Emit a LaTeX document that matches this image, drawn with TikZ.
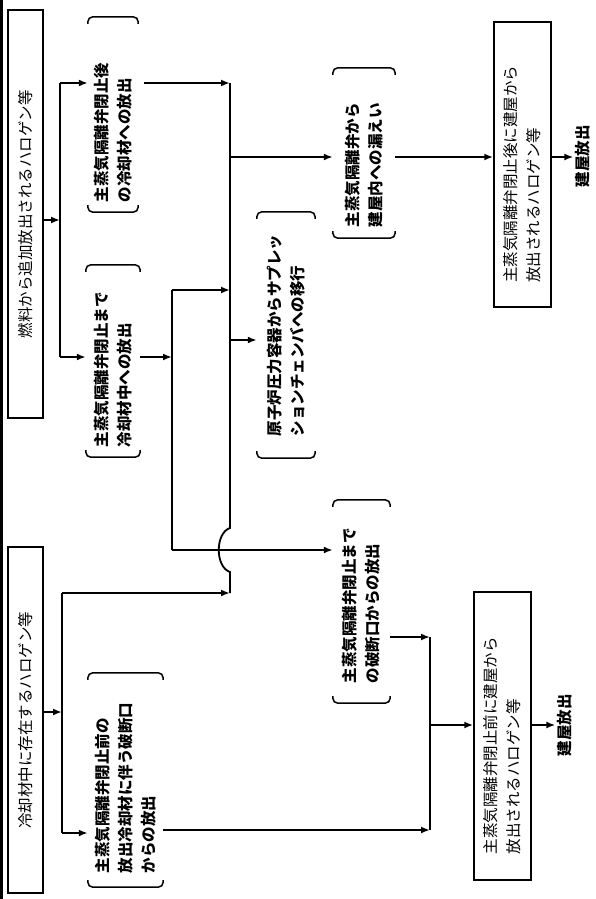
\documentclass[tikz,border=0pt]{standalone}
\usepackage{fontspec}
\newfontfamily\jp{Noto Sans CJK JP}
\usetikzlibrary{arrows.meta,calc}

\begin{document}
\begin{tikzpicture}[x=1pt,y=-1pt,
  srcbox/.style={draw, line width=1.5pt, rotate=90, inner sep=0pt, font=\jp\fontsize{15.5}{23}\selectfont},
  bracketbox/.style={rotate=90, align=left, inner sep=0pt, font=\jp\bfseries\fontsize{15.5}{23}\selectfont},
  brackline/.style={line width=1.5pt, rounded corners=5pt},
  busline/.style={line width=1.8pt},
  flow/.style={line width=1.8pt, -{Latex[length=9pt,width=7pt]}},
  release/.style={rotate=90, inner sep=2pt, font=\jp\bfseries\fontsize{15.5}{23}\selectfont}]
\useasboundingbox (0,0) rectangle (595,899);
\draw[line width=3pt] (1.5,0) -- (1.5,899);

% sources
\node[srcbox, minimum width=408pt, minimum height=35pt] (fuelSrc) at (25.5,214) {燃料から追加放出されるハロゲン等};
\node[srcbox, minimum width=346pt, minimum height=35pt] (coolSrc) at (25.5,720) {冷却材中に存在するハロゲン等};

% release paths
\node[bracketbox, text width=175pt, minimum width=195pt, minimum height=50pt] (afterCool) at (113,114.5) {主蒸気隔離弁閉止後\\の冷却材への放出};
\node[bracketbox, text width=172pt, minimum width=192pt, minimum height=54pt] (beforeCool) at (113,361) {主蒸気隔離弁閉止まで\\冷却材中への放出};
\node[bracketbox, text width=186pt, minimum width=214pt, minimum height=75pt] (breakBefore) at (125.5,780) {主蒸気隔離弁閉止前の\\放出冷却材に伴う破断口\\からの放出};
\node[bracketbox, text width=202pt, minimum width=246pt, minimum height=58pt] (toSC) at (286,335) {原子炉圧力容器からサプレッ\\ションチェンバへの移行};
\node[bracketbox, text width=148pt, minimum width=170pt, minimum height=62pt] (toBldg) at (364,153) {主蒸気隔離弁から\\建屋内への漏えい};
\node[bracketbox, text width=163pt, minimum width=203pt, minimum height=57pt] (breakMSIV) at (361.5,601.5) {主蒸気隔離弁閉止まで\\の破断口からの放出};

% building release
\node[srcbox, align=left, text width=236pt, minimum width=285pt, minimum height=57pt] (afterBox) at (522.5,164.5) {主蒸気隔離弁閉止後に建屋から\\放出されるハロゲン等};
\node[srcbox, align=left, text width=236pt, minimum width=288pt, minimum height=57pt] (beforeBox) at (502.5,736) {主蒸気隔離弁閉止前に建屋から\\放出されるハロゲン等};
\node[release] (relAfter) at (583,156) {建屋放出};
\node[release] (relBefore) at (565,725) {建屋放出};

\foreach \n in {afterCool,beforeCool,breakBefore,toSC,toBldg,breakMSIV}{
  \draw[brackline] ($(\n.north east)!7pt!(\n.north west)$) -- (\n.north east) -- (\n.south east) -- ($(\n.south east)!7pt!(\n.south west)$);
  \draw[brackline] ($(\n.north west)!7pt!(\n.north east)$) -- (\n.north west) -- (\n.south west) -- ($(\n.south west)!7pt!(\n.south east)$);
}

% junctions
\coordinate (fTop) at (60,83);
\coordinate (fMid) at (60,220);
\coordinate (fBot) at (60,357);
\coordinate (bTop) at (62,593);
\coordinate (bMid) at (62,712);
\coordinate (bBot) at (62,833);
\coordinate (m1) at (230,83);
\coordinate (m2) at (230,157);
\coordinate (m3) at (230,290);
\coordinate (m4) at (230,340);
\coordinate (hopA) at (230,528);
\coordinate (hopB) at (230,572);
\coordinate (m5) at (230,593);
\coordinate (d1) at (172,290);
\coordinate (d2) at (172,357);
\coordinate (d3) at (172,550);
\coordinate (l1) at (430,637);
\coordinate (l2) at (430,725);
\coordinate (l3) at (430,830);

% fuel side
\draw[flow] (fuelSrc.south |- fMid) -- (fMid);
\draw[busline] (fTop) -- (fBot);
\draw[flow] (fTop) -- (afterCool.north |- fTop);
\draw[flow] (fBot) -- (beforeCool.north |- fBot);
\draw[flow, shorten <=6pt] (afterCool.south |- m1) -- (m1);
\draw[busline] (m1) -- (hopA) .. controls (215,533) and (215,567) .. (hopB) -- (m5);
\draw[flow] (m2) -- (toBldg.north |- m2);
\draw[flow] (m4) -- (toSC.north |- m4);
\draw[flow] (beforeCool.south |- d2) -- (d2);
\draw[busline] (d1) -- (d3);
\draw[flow] (d1) -- (m3);
\draw[flow] (d3) -- (breakMSIV.north |- d3);

% coolant side
\draw[flow] (coolSrc.south |- bMid) -- (bMid);
\draw[busline] (bTop) -- (bBot);
\draw[flow] (bTop) -- (m5);
\draw[flow] (bBot) -- (breakBefore.north |- bBot);
\draw[flow] (breakBefore.south |- l3) -- (l3);
\draw[flow] (breakMSIV.south |- l1) -- (l1);
\draw[busline] (l1) -- (l3);
\draw[flow] (l2) -- (beforeBox.north |- l2);
\draw[flow] (beforeBox.south |- l2) -- (relBefore.north |- l2);
\draw[flow] (toBldg.south |- m2) -- (afterBox.north |- m2);
\draw[flow] (afterBox.south |- m2) -- (relAfter.north |- m2);
\end{tikzpicture}
\end{document}
